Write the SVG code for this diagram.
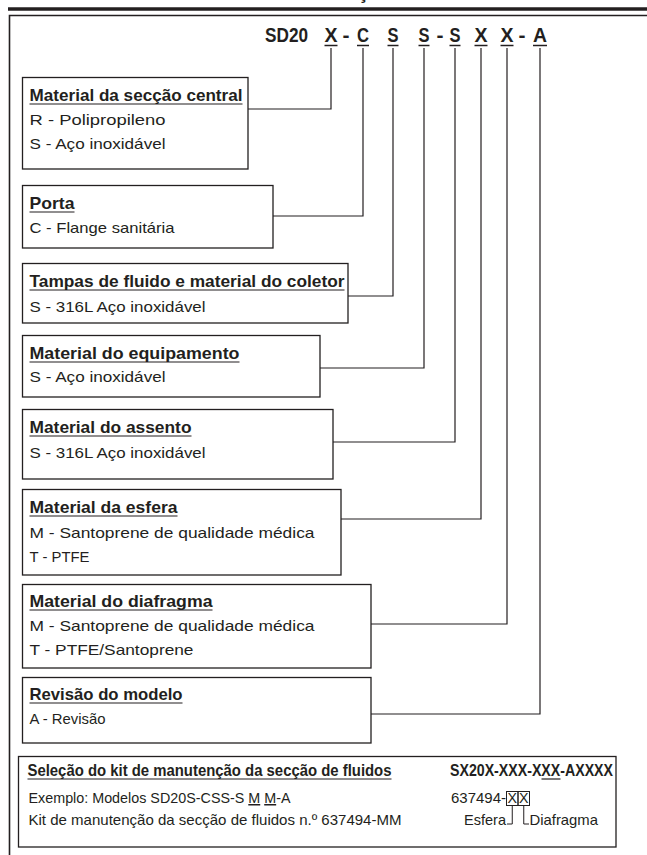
<svg xmlns="http://www.w3.org/2000/svg" width="647" height="855" viewBox="0 0 647 855">
<style>
text { font-family: "Liberation Sans", Arial, sans-serif; fill: #231f20; }
.h { font-weight: bold; font-size: 17px; }
.b { font-size: 15px; }
.c { font-weight: bold; font-size: 21px; text-anchor: middle; }
.u { text-decoration: underline; }
.box { fill: #fff; stroke: #231f20; stroke-width: 1.3; }
.ul { stroke: #231f20; stroke-width: 1.2; }
.cn { fill: none; stroke: #231f20; stroke-width: 1.2; }
</style>
<rect width="647" height="855" fill="#fff"/>
<text class="c" x="363" y="-1" style="font-size:20px">Ç</text>
<line x1="8" y1="9" x2="647" y2="9" stroke="#231f20" stroke-width="3.3"/>
<polyline points="9.5,855 9.5,15.5 647,15.5" fill="none" stroke="#231f20" stroke-width="1.6"/>

<g id="code">
<text class="c" x="265" y="42" style="text-anchor:start" textLength="43" lengthAdjust="spacingAndGlyphs">SD20</text>
<text class="c" x="331" y="42" textLength="13" lengthAdjust="spacingAndGlyphs">X</text>
<text class="c" x="346" y="42">-</text>
<text class="c" x="363" y="42" textLength="12" lengthAdjust="spacingAndGlyphs">C</text>
<text class="c" x="393" y="42" textLength="11" lengthAdjust="spacingAndGlyphs">S</text>
<text class="c" x="424" y="42" textLength="11" lengthAdjust="spacingAndGlyphs">S</text>
<text class="c" x="440" y="42">-</text>
<text class="c" x="455" y="42" textLength="11" lengthAdjust="spacingAndGlyphs">S</text>
<text class="c" x="481" y="42" textLength="13" lengthAdjust="spacingAndGlyphs">X</text>
<text class="c" x="507" y="42" textLength="13" lengthAdjust="spacingAndGlyphs">X</text>
<text class="c" x="522" y="42">-</text>
<text class="c" x="540" y="42" textLength="14" lengthAdjust="spacingAndGlyphs">A</text>
<g class="ul" style="stroke-width:1.5">
<line x1="324.5" y1="45.5" x2="337.5" y2="45.5"/>
<line x1="357" y1="45.5" x2="369" y2="45.5"/>
<line x1="387.5" y1="45.5" x2="398.5" y2="45.5"/>
<line x1="418.5" y1="45.5" x2="429.5" y2="45.5"/>
<line x1="449.5" y1="45.5" x2="460.5" y2="45.5"/>
<line x1="474.5" y1="45.5" x2="487.5" y2="45.5"/>
<line x1="500.5" y1="45.5" x2="513.5" y2="45.5"/>
<line x1="533" y1="45.5" x2="547" y2="45.5"/>
</g>
</g>

<g id="connectors" class="cn">
<polyline points="331,48 331,109 248,109"/>
<polyline points="363,48 363,216 273,216"/>
<polyline points="393,48 393,296 348,296"/>
<polyline points="424,48 424,368 320,368"/>
<polyline points="455,48 455,442 333,442"/>
<polyline points="481,48 481,519 341,519"/>
<polyline points="507,48 507,624 371,624"/>
<polyline points="540,48 540,714 371,714"/>
</g>

<g id="box-central">
<rect class="box" x="22.5" y="77.5" width="225.5" height="91.5"/>
<text class="h" x="29.5" y="101" textLength="213" lengthAdjust="spacingAndGlyphs">Material da secção central</text>
<line class="ul" x1="29.5" y1="104" x2="242.5" y2="104"/>
<text class="b" x="29.5" y="125" textLength="136" lengthAdjust="spacingAndGlyphs">R - Polipropileno</text>
<text class="b" x="29.5" y="149" textLength="136" lengthAdjust="spacingAndGlyphs">S - Aço inoxidável</text>
</g>

<g id="box-porta">
<rect class="box" x="22.5" y="185.5" width="250.5" height="62.5"/>
<text class="h" x="29.5" y="209" textLength="45" lengthAdjust="spacingAndGlyphs">Porta</text>
<line class="ul" x1="29.5" y1="212" x2="74.5" y2="212"/>
<text class="b" x="29.5" y="233" textLength="145" lengthAdjust="spacingAndGlyphs">C - Flange sanitária</text>
</g>

<g id="box-tampas">
<rect class="box" x="22.5" y="263.5" width="325.5" height="59.5"/>
<text class="h" x="29.5" y="287" textLength="315" lengthAdjust="spacingAndGlyphs">Tampas de fluido e material do coletor</text>
<line class="ul" x1="29.5" y1="290" x2="344.5" y2="290"/>
<text class="b" x="29.5" y="312" textLength="176" lengthAdjust="spacingAndGlyphs">S - 316L Aço inoxidável</text>
</g>

<g id="box-equipamento">
<rect class="box" x="22.5" y="335.5" width="297.5" height="61.5"/>
<text class="h" x="29.5" y="359" textLength="210" lengthAdjust="spacingAndGlyphs">Material do equipamento</text>
<line class="ul" x1="29.5" y1="362" x2="239.5" y2="362"/>
<text class="b" x="29.5" y="382" textLength="136" lengthAdjust="spacingAndGlyphs">S - Aço inoxidável</text>
</g>

<g id="box-assento">
<rect class="box" x="22.5" y="409.5" width="310.5" height="69.5"/>
<text class="h" x="29.5" y="433" textLength="162" lengthAdjust="spacingAndGlyphs">Material do assento</text>
<line class="ul" x1="29.5" y1="436" x2="191.5" y2="436"/>
<text class="b" x="29.5" y="458" textLength="176" lengthAdjust="spacingAndGlyphs">S - 316L Aço inoxidável</text>
</g>

<g id="box-esfera">
<rect class="box" x="22.5" y="489.5" width="318.5" height="85.5"/>
<text class="h" x="29.5" y="513" textLength="148" lengthAdjust="spacingAndGlyphs">Material da esfera</text>
<line class="ul" x1="29.5" y1="516" x2="177.5" y2="516"/>
<text class="b" x="29.5" y="538" textLength="285" lengthAdjust="spacingAndGlyphs">M - Santoprene de qualidade médica</text>
<text class="b" x="29.5" y="562" textLength="60" lengthAdjust="spacingAndGlyphs">T - PTFE</text>
</g>

<g id="box-diafragma">
<rect class="box" x="22.5" y="584.5" width="348.5" height="83.5"/>
<text class="h" x="29.5" y="607" textLength="183" lengthAdjust="spacingAndGlyphs">Material do diafragma</text>
<line class="ul" x1="29.5" y1="610" x2="212.5" y2="610"/>
<text class="b" x="29.5" y="631" textLength="285" lengthAdjust="spacingAndGlyphs">M - Santoprene de qualidade médica</text>
<text class="b" x="29.5" y="655" textLength="164" lengthAdjust="spacingAndGlyphs">T - PTFE/Santoprene</text>
</g>

<g id="box-revisao">
<rect class="box" x="22.5" y="677.5" width="348.5" height="65.5"/>
<text class="h" x="29.5" y="700" textLength="153" lengthAdjust="spacingAndGlyphs">Revisão do modelo</text>
<line class="ul" x1="29.5" y1="703" x2="182.5" y2="703"/>
<text class="b" x="29.5" y="724" textLength="76" lengthAdjust="spacingAndGlyphs">A - Revisão</text>
</g>

<g id="box-kit">
<rect class="box" x="18.5" y="756.5" width="597.5" height="90.5"/>
<text class="h" x="27.5" y="776" style="font-size:16px" textLength="364" lengthAdjust="spacingAndGlyphs">Seleção do kit de manutenção da secção de fluidos</text>
<line class="ul" x1="27.5" y1="779" x2="391.5" y2="779"/>
<text class="h" x="450" y="776" style="font-size:16px" textLength="163" lengthAdjust="spacingAndGlyphs">SX20X-XXX-XXX-AXXXX</text>
<line class="ul" x1="541.5" y1="779" x2="560.5" y2="779"/>
<text class="b" x="28.5" y="803" textLength="262" lengthAdjust="spacingAndGlyphs">Exemplo: Modelos SD20S-CSS-S <tspan class="u">M</tspan> <tspan class="u">M</tspan>-A</text>
<text class="b" x="28.5" y="825" textLength="373" lengthAdjust="spacingAndGlyphs">Kit de manutenção da secção de fluidos n.º 637494-MM</text>
<text class="b" x="451" y="803" textLength="55" lengthAdjust="spacingAndGlyphs">637494-</text>
<rect x="506.5" y="791.5" width="11.5" height="14" fill="none" stroke="#231f20" stroke-width="1"/>
<rect x="518" y="791.5" width="11.5" height="14" fill="none" stroke="#231f20" stroke-width="1"/>
<text class="b" x="512.25" y="803" style="text-anchor:middle" textLength="9.5" lengthAdjust="spacingAndGlyphs">X</text>
<text class="b" x="523.75" y="803" style="text-anchor:middle" textLength="9.5" lengthAdjust="spacingAndGlyphs">X</text>
<text class="b" x="464" y="825" textLength="42" lengthAdjust="spacingAndGlyphs">Esfera</text>
<polyline points="507,824 512.25,824 512.25,805.5" fill="none" stroke="#231f20" stroke-width="1"/>
<polyline points="523.75,805.5 523.75,824 529,824" fill="none" stroke="#231f20" stroke-width="1"/>
<text class="b" x="529.5" y="825" textLength="68.5" lengthAdjust="spacingAndGlyphs">Diafragma</text>
</g>
</svg>
